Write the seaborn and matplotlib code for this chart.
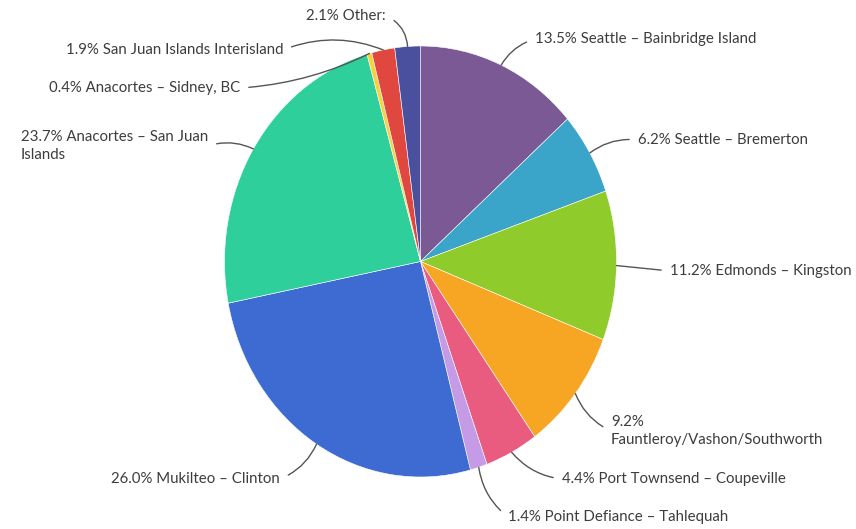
import numpy as np
import pandas as pd
import matplotlib
matplotlib.use('Agg')
import matplotlib.pyplot as plt
import seaborn as sns

# data (clockwise from 12 o'clock)
routes = ['Seattle – Bainbridge Island', 'Seattle – Bremerton', 'Edmonds – Kingston',
          'Fauntleroy/Vashon/Southworth', 'Port Townsend – Coupeville',
          'Point Defiance – Tahlequah', 'Mukilteo – Clinton', 'Anacortes – San Juan Islands',
          'Anacortes – Sidney, BC', 'San Juan Islands Interisland', 'Other:']
shares = [13.5, 6.2, 11.2, 9.2, 4.4, 1.4, 26.0, 23.7, 0.4, 1.9, 2.1]
colors = ['#7a5994', '#3ba5c9', '#8fcb2a', '#f7a623', '#ea5b80', '#c59ae6',
          '#3d6bd1', '#2fcf9c', '#f8d23a', '#e0483f', '#4a4f9e']
label_text = ['13.5% Seattle – Bainbridge Island', '6.2% Seattle – Bremerton',
              '11.2% Edmonds – Kingston', '9.2%\nFauntleroy/Vashon/Southworth',
              '4.4% Port Townsend – Coupeville', '1.4% Point Defiance – Tahlequah',
              '26.0% Mukilteo – Clinton', '23.7% Anacortes – San Juan\nIslands',
              '0.4% Anacortes – Sidney, BC', '1.9% San Juan Islands Interisland',
              '2.1% Other:']

# label layout: (x px, y px from top, ha, rad)
label_pos = [(535, 39, 'left', 0.2), (638, 140, 'left', 0.2), (670, 271, 'left', 0.0),
             (611, 431, 'left', -0.2), (562, 479, 'left', -0.2), (508, 517, 'left', -0.2),
             (280, 479, 'right', 0.2), (208, 146, 'right', -0.2), (240, 88, 'right', 0.1),
             (283, 50, 'right', -0.2), (386, 16, 'right', -0.3)]

W, H = 856, 529
cx, cy, rx, ry = 420.5, 261.5, 196.0, 215.5

sns.set_theme(style='white')
plt.rcParams['font.family'] = ['Lato', 'DejaVu Sans']

fig = plt.figure(figsize=(W / 100, H / 100), dpi=100)
ax = fig.add_axes([0, 0, 1, 1])
wedges, _ = ax.pie(shares, colors=colors, startangle=90, counterclock=False,
                   wedgeprops=dict(linewidth=0.4, edgecolor='white'))
ax.set_aspect('auto')
ax.set_xlim(-cx / rx, (W - cx) / rx)
ax.set_ylim(-(H - cy) / ry, cy / ry)
ax.axis('off')

for w, txt, (px, py, ha, rad) in zip(wedges, label_text, label_pos):
    ang = np.deg2rad((w.theta1 + w.theta2) / 2)
    relx = 0 if ha == 'left' else 1
    ax.annotate(txt, xy=(np.cos(ang), np.sin(ang)), xytext=(px, H - py),
                textcoords='figure pixels', ha=ha, va='center', multialignment='left',
                fontsize=10.8, color='#3d3d3d', linespacing=1.4,
                arrowprops=dict(arrowstyle='-', color='#555555', lw=1,
                                shrinkA=4, shrinkB=0, relpos=(relx, 0.5),
                                connectionstyle=f'arc3,rad={rad}'))

fig.savefig('out.png', dpi=100)
